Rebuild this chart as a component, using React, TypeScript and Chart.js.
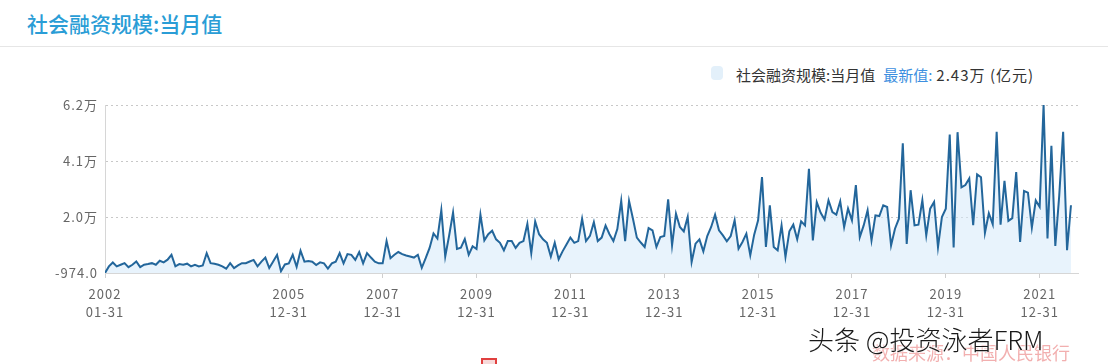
import React, { useEffect, useRef } from 'react';
import { Chart, registerables } from 'chart.js';

Chart.register(...registerables);

// 社会融资规模:当月值 (亿元), monthly from 2002-01
const startYear = 2002;
const tsf2002 = [-974, 1500, 2960, 1500, 2100, 2700, 1200, 2100, 3300, 1200, 2100, 2350];
const tsf2003 = [2700, 2100, 3600, 3000, 4000, 5800, 1500, 2350, 2100, 2500, 1500, 2100];
const tsf2004 = [1500, 1850, 6400, 2700, 2500, 2100, 1500, 620, 2700, 870, 1850, 2700];
const tsf2005 = [2700, 3300, 3900, 1500, 3300, 4800, 870, 3300, 5800, -300, 2230, 2600];
const tsf2006 = [5820, 1330, 7360, 3260, 3510, 3260, 1980, 3000, 2620, 690, 2620, 3260];
const tsf2007 = [6460, 2620, 6080, 5820, 3900, 6850, 2620, 6460, 4790, 3260, 2620, 2620];
const tsf2008 = [10950, 4540, 5820, 6850, 6080, 5560, 5180, 4790, 5820, 950, 4540, 8380];
const tsf2009 = [13800, 11900, 22490, 5180, 13000, 21560, 8000, 8500, 11700, 5820, 9020, 8000];
const tsf2010 = [20820, 11200, 13510, 14790, 11590, 10300, 7490, 10950, 10950, 8380, 10300, 10950];
const tsf2011 = [17360, 6460, 18260, 13510, 11590, 10300, 5180, 10300, 4150, 7100, 9670, 12230];
const tsf2012 = [10300, 10950, 19280, 10950, 12870, 18000, 10950, 12230, 16720, 13510, 10950, 15440];
const tsf2013 = [25950, 10950, 25950, 19280, 12230, 10400, 8726, 15813, 14943, 8726, 12456, 12830];
const tsf2014 = [26508, 9347, 21160, 16186, 14570, 19917, 3130, 9970, 11585, 7110, 12830, 16186];
const tsf2015 = [20787, 14943, 13078, 10840, 12830, 18673, 8100, 10590, 13700, 5617, 13326, 18673];
const tsf2016 = [34839, 8726, 24269, 8726, 7482, 16808, 4995, 14570, 17057, 11585, 18300, 16808];
const tsf2017 = [37948, 11200, 25500, 21500, 19000, 26172, 21794, 20793, 25797, 16164, 23044, 18666];
const tsf2018 = [31800, 12410, 16790, 22420, 11160, 20540, 20290, 24300, 23670, 9284, 15540, 19290];
const tsf2019 = [47440, 9909, 29925, 16790, 17040, 26172, 13036, 23044, 25546, 8658, 19917, 23044];
const tsf2020 = [50674, 8554, 51584, 30975, 31866, 34326, 16921, 35851, 34759, 13981, 21332, 17192];
const tsf2021 = [51742, 17066, 33424, 18485, 19522, 36697, 10591, 29617, 29026, 15934, 26086, 23682];
const tsf2022 = [61726, 11928, 46531, 9102, 27921, 51733, 7561, 24300];

const tsfByYear = [
  tsf2002, tsf2003, tsf2004, tsf2005, tsf2006, tsf2007, tsf2008, tsf2009, tsf2010, tsf2011,
  tsf2012, tsf2013, tsf2014, tsf2015, tsf2016, tsf2017, tsf2018, tsf2019, tsf2020, tsf2021, tsf2022,
];
const tsfValues: number[] = tsfByYear.flat();

// x-axis tick labels
const xTickYears = ['2002', '2005', '2007', '2009', '2011', '2013', '2015', '2017', '2019', '2021'];
const xTickDates = ['01-31', '12-31', '12-31', '12-31', '12-31', '12-31', '12-31', '12-31', '12-31', '12-31'];

const seriesName = '社会融资规模:当月值';
const titleText = '社会融资规模:当月值';
const unitText = '(亿元)';

const FONT = '"Noto Sans CJK SC", "Noto Sans", sans-serif';

function fmtWan(v: number): string {
  if (Math.abs(v) >= 10000) return (v / 10000).toFixed(1) + '万';
  return v.toFixed(1);
}

const tickIndex = xTickYears.map((y, k) => {
  const month = parseInt(xTickDates[k].slice(0, 2), 10);
  return (parseInt(y, 10) - startYear) * 12 + (month - 1);
});

export default function App() {
  const ref = useRef<HTMLCanvasElement | null>(null);

  useEffect(() => {
    if (!ref.current) return;
    const yMin = Math.min(...tsfValues);
    const yMax = Math.max(...tsfValues);
    const lastIdx = tsfValues.length - 1;

    const spacingPlugin = {
      id: 'spacing',
      beforeDraw(chart: any) {
        (chart.ctx as any).letterSpacing = '1px';
      },
      beforeDatasetsDraw(chart: any) {
        (chart.ctx as any).letterSpacing = '0px';
      },
    };

    const chart = new Chart(ref.current, {
      type: 'line',
      data: {
        datasets: [
          {
            label: seriesName,
            data: tsfValues.map((v, i) => ({ x: i, y: v })),
            borderColor: '#23669b',
            borderWidth: 2,
            pointRadius: 0,
            tension: 0,
            fill: 'start',
            backgroundColor: 'rgba(214, 234, 249, 0.55)',
          },
        ],
      },
      options: {
        animation: false,
        responsive: false,
        devicePixelRatio: 1,
        layout: { padding: { left: 0, right: 30, top: 105, bottom: 0 } },
        plugins: {
          legend: { display: false },
          tooltip: { enabled: false },
        },
        scales: {
          x: {
            type: 'linear',
            min: 0,
            max: lastIdx + 1.8,
            afterFit(scale: any) {
              scale.height = 91;
            },
            afterBuildTicks(scale: any) {
              scale.ticks = tickIndex.map((v) => ({ value: v }));
            },
            ticks: {
              autoSkip: false,
              maxRotation: 0,
              padding: 7,
              color: '#666',
              font: { family: FONT, size: 13, lineHeight: 1.4 },
              callback: (_v: any, idx: number) => [xTickYears[idx], xTickDates[idx]],
            },
            grid: {
              drawOnChartArea: false,
              drawTicks: true,
              tickLength: 5,
              color: '#cfcfcf',
            },
            border: { display: true, color: '#d6d6d6' },
          },
          y: {
            type: 'linear',
            min: yMin,
            max: yMax,
            afterFit(scale: any) {
              scale.width = 105;
            },
            afterBuildTicks(scale: any) {
              scale.ticks = [0, 1, 2, 3].map((k) => ({ value: yMin + (k * (yMax - yMin)) / 3 }));
            },
            ticks: {
              padding: 7,
              color: '#666',
              font: { family: FONT, size: 13 },
              callback: (v: any) => fmtWan(Number(v)),
            },
            grid: { drawTicks: false, color: '#c8c8c8' },
            border: { display: true, color: '#d6d6d6', dash: [2, 3] },
          },
        },
      },
      plugins: [spacingPlugin],
    } as any);
    return () => chart.destroy();
  }, []);

  const latest = tsfValues[tsfValues.length - 1];

  return (
    <div
      style={{
        position: 'absolute',
        left: 0,
        top: 0,
        width: 1108,
        height: 364,
        background: '#fff',
        overflow: 'hidden',
        fontFamily: FONT,
      }}
    >
      <div
        style={{
          position: 'absolute',
          left: 27,
          top: 8,
          fontSize: 21,
          fontWeight: 500,
          color: '#2a9dd6',
          lineHeight: '30px',
          whiteSpace: 'nowrap',
        }}
      >
        {titleText}
      </div>
      <div style={{ position: 'absolute', left: 0, top: 46, width: 1108, height: 1, background: '#e6e6e6' }} />
      <div
        style={{
          position: 'absolute',
          left: 711,
          top: 66,
          width: 12,
          height: 14,
          borderRadius: 4,
          background: '#e3f0fa',
        }}
      />
      <div
        style={{
          position: 'absolute',
          left: 736,
          top: 64,
          fontSize: 15,
          lineHeight: '22px',
          color: '#333',
          whiteSpace: 'nowrap',
        }}
      >
        {seriesName}
        <span style={{ color: '#3d8fe0', marginLeft: 8 }}>最新值:</span>
        <span style={{ marginLeft: 4, letterSpacing: 1 }}>
          {(latest / 10000).toFixed(2)}万 {unitText}
        </span>
      </div>
      <canvas ref={ref} width={1108} height={364} style={{ position: 'absolute', left: 0, top: 0 }} />
      <div
        style={{
          position: 'absolute',
          left: 481,
          top: 358,
          width: 12,
          height: 10,
          border: '2px solid #e0403f',
          background: '#f7dada',
        }}
      />
      <div
        style={{
          position: 'absolute',
          left: 872,
          top: 339,
          fontSize: 18,
          color: 'rgba(232, 110, 110, 0.55)',
          whiteSpace: 'nowrap',
        }}
      >
        数据来源：中国人民银行
      </div>
      <div
        style={{
          position: 'absolute',
          left: 808,
          top: 322,
          fontSize: 26,
          lineHeight: '34px',
          fontWeight: 300,
          color: '#1a1a1a',
          whiteSpace: 'nowrap',
          textShadow: '0 0 2px #fff, 0 0 2px #fff, 0 0 3px #fff',
        }}
      >
        头条 @投资泳者FRM
      </div>
    </div>
  );
}
